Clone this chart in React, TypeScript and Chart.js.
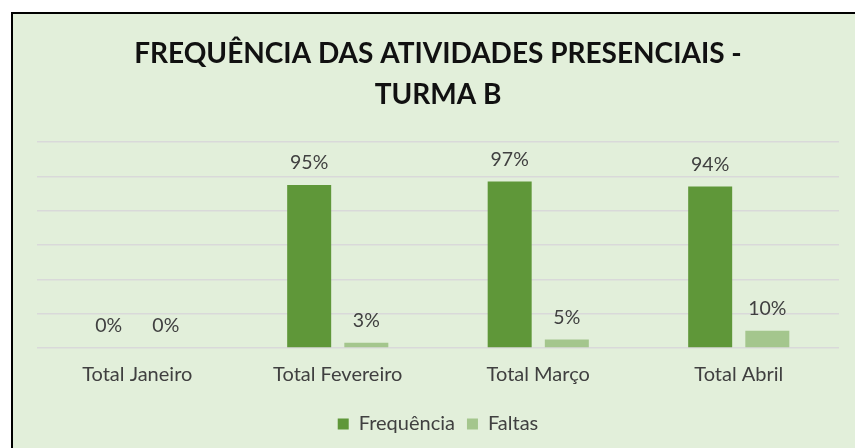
import React, { useEffect, useRef } from "react";
import { Chart, registerables } from "chart.js";

Chart.register(...registerables);

const categories = ["Total Janeiro", "Total Fevereiro", "Total Março", "Total Abril"];
const frequencia = [0, 0.95, 0.97, 0.94];
const faltas = [0, 0.03, 0.05, 0.1];
const titleLines = ["FREQUÊNCIA DAS ATIVIDADES PRESENCIAIS -", "TURMA B"];

const FONT = "Lato, 'Noto Sans', sans-serif";

const valueLabels = {
  id: "valueLabels",
  afterDatasetsDraw(chart: any) {
    const ctx = chart.ctx;
    ctx.save();
    ctx.font = `19.5px ${FONT}`;
    ctx.fillStyle = "#404040";
    ctx.textAlign = "center";
    ctx.textBaseline = "middle";
    chart.data.datasets.forEach((ds: any, i: number) => {
      const meta = chart.getDatasetMeta(i);
      meta.data.forEach((el: any, j: number) => {
        const v = ds.data[j] as number;
        ctx.fillText(`${Math.round(v * 100)}%`, el.x, el.y - 22);
      });
    });
    ctx.restore();
  },
};

export default function App() {
  const ref = useRef<HTMLCanvasElement>(null);
  useEffect(() => {
    if (!ref.current) return;
    const chart = new Chart(ref.current, {
      type: "bar",
      data: {
        labels: categories,
        datasets: [
          {
            label: "Frequência",
            data: frequencia,
            backgroundColor: "#5f9739",
            categoryPercentage: 0.57,
            barPercentage: 0.77,
          },
          {
            label: "Faltas",
            data: faltas,
            backgroundColor: "#a4c68d",
            categoryPercentage: 0.57,
            barPercentage: 0.77,
          },
        ],
      },
      options: {
        responsive: false,
        animation: false,
        layout: { padding: { left: 24, right: 16, bottom: 4 } },
        scales: {
          x: {
            grid: { display: false, drawTicks: false },
            border: { display: false },
            ticks: { color: "#404040", font: { family: FONT, size: 20, lineHeight: 0.8 }, padding: 19 },
          },
          y: {
            min: 0,
            max: 1.2,
            ticks: { display: false, stepSize: 0.2 },
            grid: { color: "#d9d9d9", lineWidth: 1.5, drawTicks: false },
            border: { display: false },
          },
        },
        plugins: {
          title: {
            display: true,
            text: titleLines,
            fullSize: false,
            color: "#111111",
            font: { family: FONT, size: 28, weight: "bold", lineHeight: 1.464 },
            padding: { top: 19, bottom: 27 },
          },
          legend: {
            position: "bottom",
            labels: {
              color: "#404040",
              font: { family: FONT, size: 20 },
              boxWidth: 11,
              boxHeight: 11,
              padding: 12,
            },
          },
          tooltip: { enabled: false },
        },
      },
      plugins: [valueLabels],
    });
    return () => chart.destroy();
  }, []);
  return (
    <div
      style={{
        position: "fixed",
        left: 11,
        top: 12,
        width: 860,
        height: 450,
        borderLeft: "2px solid #000",
        borderTop: "2px solid #000",
        background: "#e2efda",
      }}
    >
      <canvas ref={ref} width={842} height={434} style={{ display: "block", width: 842, height: 434 }} />
    </div>
  );
}
